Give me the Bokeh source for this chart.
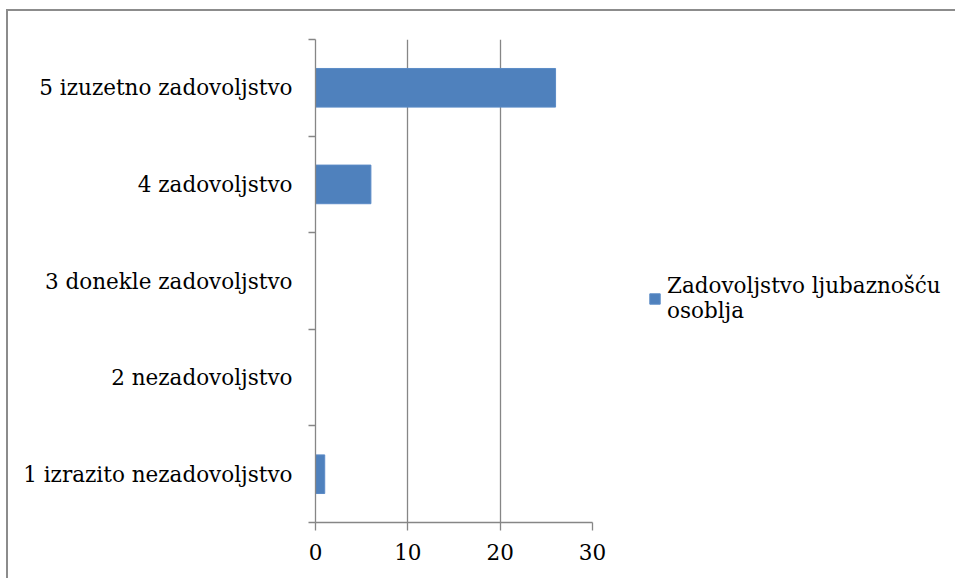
from bokeh.plotting import figure
from bokeh.models import Range1d, FixedTicker, Legend, LegendItem
from bokeh.embed import file_html
from bokeh.resources import INLINE

categories = ["1 izrazito nezadovoljstvo", "2 nezadovoljstvo", "3 donekle zadovoljstvo",
              "4 zadovoljstvo", "5 izuzetno zadovoljstvo"]
values = [1, 0, 0, 6, 26]
series_name = "Zadovoljstvo ljubaznošću\nosoblja"
x_ticks = [0, 10, 20, 30]

positions = list(range(1, len(categories) + 1))
FONT = "DejaVu Serif"
FS = "21.5px"
GRAY = "#868686"

p = figure(frame_width=277, frame_height=483, output_backend="svg", toolbar_location=None,
           x_range=Range1d(0, 30), y_range=Range1d(0.5, len(categories) + 0.5),
           min_border_left=307, min_border_right=10, min_border_top=28, min_border_bottom=59)
p.styles = {"border-left": "2px solid #8c8c8c", "border-top": "2px solid #8c8c8c",
            "margin-left": "6px", "margin-top": "9px"}
p.outline_line_color = None

r = p.hbar(y=positions, right=values, left=0, height=0.4, fill_color="#4F81BD", line_color="#5B8BC7")

# x axis
p.xaxis.ticker = FixedTicker(ticks=x_ticks)
p.xaxis.axis_line_color = GRAY
p.xaxis.axis_line_width = 1.3
p.xaxis.major_tick_line_color = GRAY
p.xaxis.major_tick_line_width = 1.3
p.xaxis.major_tick_out = 8
p.xaxis.major_tick_in = 0
p.xaxis.minor_tick_line_color = None
p.xaxis.major_label_text_font = FONT
p.xaxis.major_label_text_font_size = FS
p.xaxis.major_label_text_color = "black"
p.xaxis.major_label_standoff = 13

# y axis
p.yaxis.ticker = FixedTicker(ticks=positions, minor_ticks=[k + 0.5 for k in range(0, len(categories) + 1)])
p.yaxis.major_label_overrides = {pos: cat for pos, cat in zip(positions, categories)}
p.yaxis.axis_line_color = GRAY
p.yaxis.axis_line_width = 1.3
p.yaxis.major_tick_line_color = None
p.yaxis.major_tick_out = 0
p.yaxis.major_tick_in = 0
p.yaxis.minor_tick_line_color = GRAY
p.yaxis.minor_tick_line_width = 1.3
p.yaxis.minor_tick_out = 7
p.yaxis.minor_tick_in = 0
p.yaxis.major_label_text_font = FONT
p.yaxis.major_label_text_font_size = FS
p.yaxis.major_label_text_color = "black"
p.yaxis.major_label_standoff = 16

p.xgrid.grid_line_color = GRAY
p.xgrid.grid_line_width = 1.3
p.ygrid.grid_line_color = None

legend = Legend(items=[LegendItem(label=series_name, renderers=[r])],
                location=(56, 199), padding=0, margin=0, border_line_color=None,
                background_fill_alpha=0, label_text_font=FONT, label_text_font_size=FS,
                label_text_color="black",
                glyph_width=13, glyph_height=13, label_standoff=6, label_height=13)
p.add_layout(legend, "right")

open("out.html", "w").write(file_html(p, INLINE))
